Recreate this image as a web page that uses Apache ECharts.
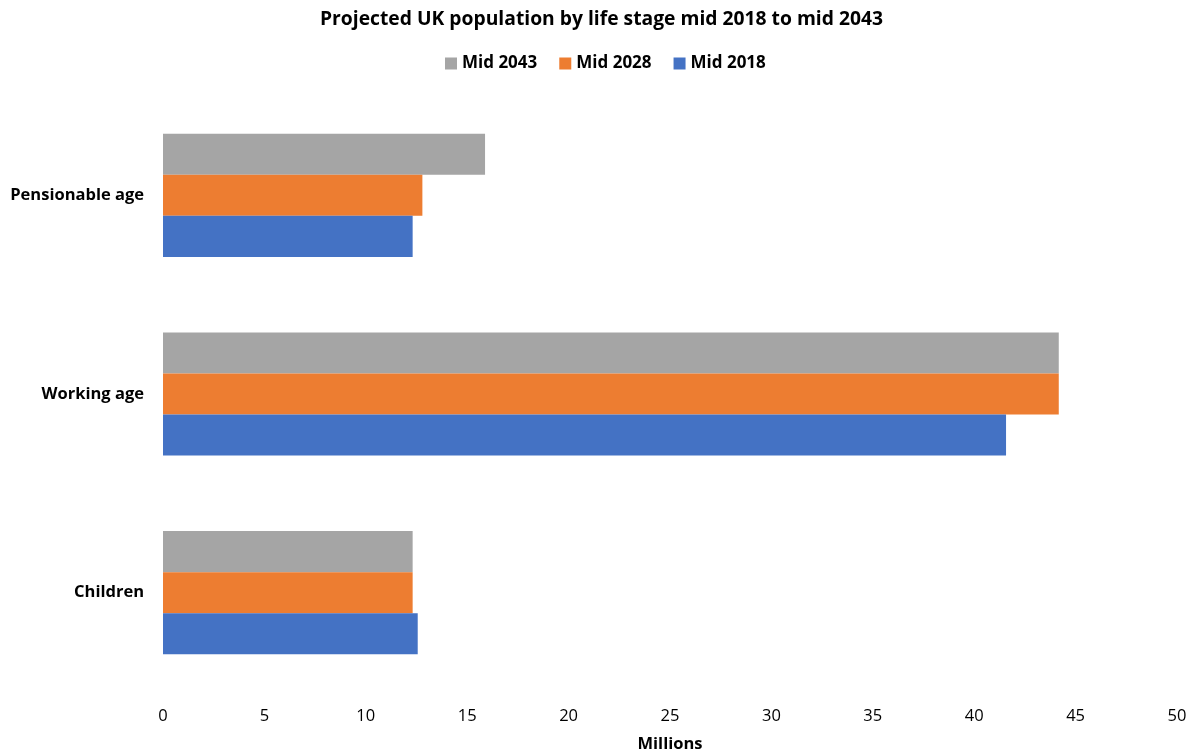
<!DOCTYPE html>
<html>
<head>
<meta charset="utf-8">
<script src="https://cdn.jsdelivr.net/npm/echarts@6/dist/echarts.min.js"></script>
<style>
  html, body { margin: 0; padding: 0; background: #ffffff; }
  #chart { width: 1195px; height: 756px; }
</style>
</head>
<body>
<div id="chart"></div>
<script>
// Life stages, bottom to top on the category axis
const categories = ['Children', 'Working age', 'Pensionable age'];

// Population in millions per life stage
const mid2018 = [12.56, 41.57, 12.31];
const mid2028 = [12.31, 44.17, 12.79];
const mid2043 = [12.31, 44.17, 15.88];

const legendOrder = ['Mid 2043', 'Mid 2028', 'Mid 2018'];

const FONT = '"Open Sans", "Liberation Sans", sans-serif';

const chart = echarts.init(document.getElementById('chart'), null, { renderer: 'canvas' });

function barSeries(name, data, color) {
  return {
    name: name,
    type: 'bar',
    data: data,
    barGap: '0%',
    barCategoryGap: '38%',
    itemStyle: { color: color },
    emphasis: { disabled: true }
  };
}

chart.setOption({
  animation: false,
  textStyle: { fontFamily: FONT },
  title: {
    text: 'Projected UK population by life stage mid 2018 to mid 2043',
    left: 315,
    top: 5,
    textStyle: { fontFamily: FONT, fontSize: 19.3, fontWeight: 'bold', color: '#000000' }
  },
  legend: {
    data: legendOrder,
    top: 50,
    left: 440,
    itemWidth: 12,
    itemHeight: 12,
    itemGap: 22,
    icon: 'rect',
    textStyle: { fontFamily: FONT, fontSize: 17, fontWeight: 'bold', color: '#000000' }
  },
  grid: { left: 163, right: 18, top: 96, bottom: 64, containLabel: false, outerBoundsMode: 'none' },
  xAxis: {
    type: 'value',
    min: 0,
    max: 50,
    interval: 5,
    name: 'Millions',
    nameLocation: 'middle',
    nameGap: 44,
    nameTextStyle: { fontFamily: FONT, fontSize: 16.5, fontWeight: 'bold', color: '#000000' },
    axisLine: { show: false },
    axisTick: { show: false },
    splitLine: { show: false },
    axisLabel: { margin: 16, fontFamily: FONT, fontSize: 16.5, color: '#000000' }
  },
  yAxis: {
    type: 'category',
    data: categories,
    axisLine: { show: false },
    axisTick: { show: false },
    axisLabel: { margin: 19, fontFamily: FONT, fontSize: 16.5, fontWeight: 'bold', color: '#000000' }
  },
  // first series sits at the top of each group
  series: [
    barSeries('Mid 2043', mid2043, '#A5A5A5'),
    barSeries('Mid 2028', mid2028, '#ED7D31'),
    barSeries('Mid 2018', mid2018, '#4472C4')
  ]
});
</script>
</body>
</html>
